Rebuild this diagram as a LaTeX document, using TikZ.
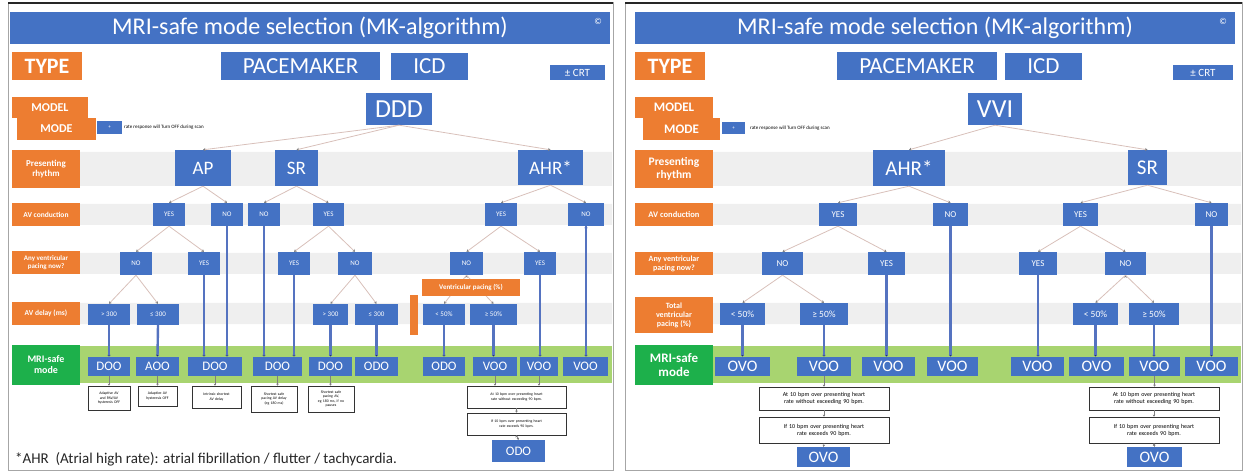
\documentclass[tikz,border=0pt]{standalone}
\usepackage{fontspec}
\setmainfont{Carlito}
\usepackage{tikz}
\usetikzlibrary{positioning}
\usetikzlibrary{arrows.meta}
\usepackage{color}
\definecolor{mriblue}{HTML}{4472C4}
\definecolor{mriorange}{HTML}{ED7D31}
\definecolor{mrigreen}{HTML}{1DB04B}
\definecolor{bandgreen}{HTML}{A8D470}
\definecolor{bandgrey}{HTML}{EFEFEF}
\definecolor{linkgrey}{HTML}{D8C0BA}
\definecolor{dropblue}{HTML}{5573C0}

\begin{document}
\begin{tikzpicture}[x=1pt, y=-1pt,
    blk/.style={fill=mriblue, text=white, inner sep=0pt},
    head/.style={blk, minimum width=#1, minimum height=28pt, font=\fontsize{23}{25}\selectfont},
    lbl/.style={fill=mriorange, text=white, inner sep=0pt, align=center, minimum width=68pt,
        minimum height=#1, font=\bfseries\fontsize{7.5}{8.5}\selectfont},
    rlbl/.style={lbl=#1, minimum width=78pt, font=\bfseries\fontsize{8.5}{9.5}\selectfont},
    rhy/.style={blk, minimum width=#1, minimum height=36pt, font=\fontsize{19}{21}\selectfont},
    ans/.style={blk, minimum width=#1, minimum height=23pt, font=\fontsize{7}{8}\selectfont},
    rans/.style={ans=#1, font=\fontsize{9}{10}\selectfont},
    cut/.style={blk, minimum width=#1, minimum height=21pt, font=\fontsize{7}{8}\selectfont},
    rcut/.style={cut=#1, minimum height=22pt, font=\fontsize{9.5}{10}\selectfont},
    res/.style={blk, minimum width=#1, minimum height=19pt, font=\fontsize{13}{14}\selectfont},
    rres/.style={res=#1, font=\fontsize{16}{17}\selectfont},
    note/.style={draw=black!80, line width=0.8pt, fill=white, inner sep=1pt, align=center,
        text width=#1, font=\fontsize{3.8}{4.4}\selectfont},
    rnote/.style={note=#1, font=\fontsize{6}{7}\selectfont},
    link/.style={draw=linkgrey, line width=0.8pt, -{Stealth[length=2.5pt, width=3pt, color=gray]}},
    drop/.style={draw=dropblue, line width=2.4pt, -{Latex[length=2pt, width=4pt]}},
    tick/.style={draw=gray, line width=0.7pt, -{Stealth[length=2pt, width=2.5pt]}}]
    \useasboundingbox (0,0) rectangle (1243,473);
    \draw[gray!70, line width=1pt] (8,3) rectangle (613,470);
    \draw[gray!70, line width=1pt] (625,3) rectangle (1242,470);
    \draw[black!85, line width=1.5pt] (8,3) -- (613,3) (625,3) -- (1242,3);
    % row bands
    \fill[bandgrey] (80,152) rectangle (612,186) (80,204) rectangle (612,225)
        (80,253) rectangle (612,274) (80,303) rectangle (612,324);
    \fill[bandgreen] (80,346) rectangle (612,383);
    \fill[bandgrey] (713,152) rectangle (1241,186) (713,204) rectangle (1241,225)
        (713,253) rectangle (1241,274) (713,303) rectangle (1241,324);
    \fill[bandgreen] (713,346) rectangle (1241,383);

    % left panel: DDD
    \path
        node (titleL) at (310,28) [blk, minimum width=600pt, minimum height=32pt, font=\fontsize{24}{26}\selectfont] {MRI-safe mode selection (MK-algorithm)}
        node (copyL) at (598,21) [text=white, inner sep=0pt, font=\fontsize{9}{9}\selectfont] {©}
        node (typeL) at (47,66) [lbl=28pt, minimum width=70pt, font=\bfseries\fontsize{22}{24}\selectfont] {TYPE}
        node (pmL) at (300.5,66) [head=159pt] {PACEMAKER}
        node (icdL) at (429.5,66.5) [head=77pt, minimum height=27pt] {ICD}
        node (crtL) at (577.5,72.5) [blk, minimum width=55pt, minimum height=15pt, font=\fontsize{11}{12}\selectfont] {± CRT}
        node (modelL) at (50,107.5) [lbl=21pt, minimum width=76pt, font=\bfseries\fontsize{12}{13}\selectfont] {MODEL}
        node (modeL) at (56.5,129) [lbl=22pt, minimum width=79pt, font=\bfseries\fontsize{12}{13}\selectfont] {MODE}
        node (plusL) at (109.5,127.5) [blk, minimum width=25pt, minimum height=13pt, font=\fontsize{5}{5}\selectfont] {+}
        node (rrL) at (124,127.5) [anchor=west, inner sep=0pt, font=\fontsize{5}{6}\selectfont] {rate response will Turn OFF during scan}
        node (ddd) at (399,109) [blk, minimum width=66pt, minimum height=32pt, font=\fontsize{26}{28}\selectfont] {DDD};
    \path
        node (rhyL) at (46,169) [lbl=38pt, font=\bfseries\fontsize{9}{10}\selectfont] {Presenting\\rhythm}
        node (avcL) at (46,214.5) [lbl=23pt] {AV conduction}
        node (vpL) at (46,262.5) [lbl=23pt, font=\bfseries\fontsize{7}{7.5}\selectfont] {Any ventricular\\pacing now?}
        node (avdL) at (46,313.5) [lbl=23pt] {AV delay (ms)}
        node (safeL) at (46,365) [lbl=40pt, fill=mrigreen, font=\bfseries\fontsize{10}{11}\selectfont] {MRI-safe\\mode};
    \path
        node (ap) at (203,168) [rhy=56pt] {AP}
        node (sr) at (296.5,168) [rhy=43pt] {SR}
        node (ahr) at (550.5,167.5) [rhy=65pt, minimum height=35pt] {AHR*}
        node (apY) at (169,214.5) [ans=32pt] {YES}
        node (apN) at (227,214.5) [ans=32pt] {NO}
        node (srN) at (264,214.5) [ans=32pt] {NO}
        node (srY) at (328.5,214.5) [ans=31pt] {YES}
        node (ahY) at (501,214.5) [ans=32pt] {YES}
        node (ahN) at (586,214.5) [ans=36pt] {NO}
        node (apYN) at (136,263.5) [ans=32pt] {NO}
        node (apYY) at (204,263.5) [ans=32pt] {YES}
        node (srYY) at (294,263.5) [ans=32pt] {YES}
        node (srYN) at (355,263.5) [ans=34pt] {NO}
        node (ahYN) at (466.5,263.5) [ans=33pt] {NO}
        node (ahYY) at (540,263.5) [ans=32pt] {YES}
        node (apD1) at (109,314.5) [cut=42pt] {> 300}
        node (apD2) at (158,314.5) [cut=42pt] {≤ 300}
        node (srD1) at (330.5,314.5) [cut=35pt] {> 300}
        node (srD2) at (376.5,314.5) [cut=43pt] {≤ 300}
        node (ahP1) at (444,314.5) [cut=42pt] {< 50\%}
        node (ahP2) at (493.5,314.5) [cut=47pt] {≥ 50\%};
    \path
        node (outA) at (109,366.5) [res=42pt] {DOO}
        node (outB) at (157.5,366.5) [res=43pt] {AOO}
        node (outC) at (215,366.5) [res=54pt] {DOO}
        node (outD) at (277.5,366.5) [res=49pt] {DOO}
        node (outE) at (330.5,366.5) [res=43pt] {DOO}
        node (outF) at (376.5,366.5) [res=43pt] {ODO}
        node (outG) at (444,366.5) [res=42pt] {ODO}
        node (outH) at (495,366.5) [res=44pt] {VOO}
        node (outI) at (539,366.5) [res=38pt] {VOO}
        node (outJ) at (585.5,366.5) [res=45pt] {VOO};
    \path
        node (noteA) at (109,398) [note=40pt, minimum height=24pt] {Adaptive AV\\and PAV/AV\\hysteresis OFF}
        node (noteB) at (157.5,396) [note=37pt, minimum height=20pt] {Adaptive AV\\hysteresis OFF}
        node (noteC) at (216.5,397) [note=47pt, minimum height=22pt] {Intrinsic shortest\\AV delay}
        node (noteD) at (274,399) [note=44pt, minimum height=26pt] {Shortest safe\\pacing AV delay\\(eg 180 ms)}
        node (noteE) at (331,399) [note=44pt, minimum height=26pt] {Shortest safe\\pacing AV,\\eg 180 ms, if no\\pauses}
        node (rateA) at (516.5,397) [note=97pt, minimum height=22pt] {At 10 bpm over presenting heart\\rate without exceeding 90 bpm.}
        node (rateB) at (516.5,424) [note=97pt, minimum height=22pt] {If 10 bpm over presenting heart\\rate exceeds 90 bpm.}
        node (lastL) at (518.5,451) [res=53pt, minimum height=22pt] {ODO};
    \path[link]
        (ddd.south) edge (ap.north) (ddd.south) edge (sr.north) (ddd.south) edge (ahr.north)
        (ap.south) edge (apY.north) (ap.south) edge (apN.north)
        (sr.south) edge (srN.north) (sr.south) edge (srY.north)
        (ahr.south) edge (ahY.north) (ahr.south) edge (ahN.north)
        (apY.south) edge (apYN.north) (apY.south) edge (apYY.north)
        (srY.south) edge (srYY.north) (srY.south) edge (srYN.north)
        (ahY.south) edge (ahYN.north) (ahY.south) edge (ahYY.north)
        (apYN.south) edge (apD1.north) (apYN.south) edge (apD2.north)
        (srYN.south) edge (srD1.north) (srYN.south) edge (srD2.north)
        (ahYN.south) edge (ahP1.north) (ahYN.south) edge (ahP2.north);
    \path[drop]
        (apD1.south) edge (outA.north) (apD2.south) edge (outB.north)
        (apYY.south) edge (apYY.south |- outC.north) (apN.south) edge (apN.south |- outC.north)
        (srN.south) edge (srN.south |- outD.north) (srYY.south) edge (srYY.south |- outD.north)
        (srD1.south) edge (outE.north) (srD2.south) edge (outF.north)
        (ahP1.south) edge (outG.north) (ahP2.south) edge (ahP2.south |- outH.north)
        (ahYY.south) edge (ahYY.south |- outI.north) (ahN.south) edge (ahN.south |- outJ.north);
    \path[tick]
        (outA.south) edge (noteA.north) (outB.south) edge (noteB.north)
        (outC.south) edge (outC.south |- noteC.north) (outD.south) edge (outD.south |- noteD.north)
        (outE.south) edge (outE.south |- noteE.north)
        (outH.south) edge (outH.south |- rateA.north) (outI.south) edge (outI.south |- rateA.north)
        (rateA.south) edge (rateB.north) (rateB.south) edge (lastL.north);
    \path
        node (vpct) at (471,287.5) [lbl=17pt, minimum width=98pt, font=\bfseries\fontsize{7}{8}\selectfont] {Ventricular pacing (\%)}
        node (vbar) at (414,315) [fill=mriorange, minimum width=8pt, minimum height=40pt, inner sep=0pt] {}
        node (foot) at (15,459) [anchor=west, inner sep=0pt, text=black!85, font=\fontsize{15}{16}\selectfont] {*AHR\ \ (Atrial high rate): atrial fibrillation / flutter / tachycardia.};

    % right panel: VVI
    \path
        node (titleR) at (935,28) [blk, minimum width=600pt, minimum height=32pt, font=\fontsize{24}{26}\selectfont] {MRI-safe mode selection (MK-algorithm)}
        node (copyR) at (1223,21) [text=white, inner sep=0pt, font=\fontsize{9}{9}\selectfont] {©}
        node (typeR) at (670,66) [lbl=28pt, minimum width=70pt, font=\bfseries\fontsize{22}{24}\selectfont] {TYPE}
        node (pmR) at (917,66) [head=160pt] {PACEMAKER}
        node (icdR) at (1043.5,66.5) [head=77pt, minimum height=27pt] {ICD}
        node (crtR) at (1203,72.5) [blk, minimum width=60pt, minimum height=15pt, font=\fontsize{11}{12}\selectfont] {± CRT}
        node (modelR) at (674,107.5) [lbl=21pt, minimum width=78pt, font=\bfseries\fontsize{13}{14}\selectfont] {MODEL}
        node (modeR) at (681.5,129) [lbl=22pt, minimum width=77pt, font=\bfseries\fontsize{13}{14}\selectfont] {MODE}
        node (plusR) at (733.5,128) [blk, minimum width=23pt, minimum height=12pt, font=\fontsize{5}{5}\selectfont] {+}
        node (rrR) at (750,128) [anchor=west, inner sep=0pt, font=\fontsize{5}{6}\selectfont] {rate response will Turn OFF during scan}
        node (vvi) at (995,109) [blk, minimum width=54pt, minimum height=32pt, font=\fontsize{26}{28}\selectfont] {VVI};
    \path
        node (rhyR) at (674,169) [rlbl=38pt, font=\bfseries\fontsize{11.5}{13}\selectfont] {Presenting\\rhythm}
        node (avcR) at (674,214.5) [rlbl=23pt] {AV conduction}
        node (vpR) at (674,263.5) [rlbl=23pt, font=\bfseries\fontsize{8}{9}\selectfont] {Any ventricular\\pacing now?}
        node (totR) at (674,315) [rlbl=36pt, font=\bfseries\fontsize{8}{9}\selectfont] {Total\\ventricular\\pacing (\%)}
        node (safeR) at (674,365) [rlbl=40pt, fill=mrigreen, font=\bfseries\fontsize{13}{14}\selectfont] {MRI-safe\\mode};
    \path
        node (ahrR) at (909,168) [rhy=72pt, font=\fontsize{21}{23}\selectfont] {AHR*}
        node (srR) at (1147.5,167.5) [rhy=39pt, minimum height=35pt, font=\fontsize{21}{23}\selectfont] {SR}
        node (ahY2) at (838,214.5) [rans=38pt] {YES}
        node (ahN2) at (950.5,214.5) [rans=35pt] {NO}
        node (srY2) at (1080.5,214.5) [rans=35pt] {YES}
        node (srN2) at (1211.5,214.5) [rans=33pt] {NO}
        node (ahYN2) at (782.5,263.5) [rans=41pt] {NO}
        node (ahYY2) at (886.5,263.5) [rans=37pt] {YES}
        node (srYY2) at (1038,263.5) [rans=38pt] {YES}
        node (srYN2) at (1125.5,263.5) [rans=41pt] {NO}
        node (ahP3) at (742.5,314) [rcut=45pt] {< 50\%}
        node (ahP4) at (824,314) [rcut=48pt] {≥ 50\%}
        node (srP3) at (1095.5,314) [rcut=45pt] {< 50\%}
        node (srP4) at (1154,314) [rcut=50pt] {≥ 50\%};
    \path
        node (outK) at (742.5,366.5) [rres=55pt] {OVO}
        node (outL) at (824,366.5) [rres=54pt] {VOO}
        node (outM) at (888.5,366.5) [rres=53pt] {VOO}
        node (outN) at (952.5,366.5) [rres=51pt] {VOO}
        node (outO) at (1037.5,366.5) [rres=53pt] {VOO}
        node (outP) at (1096.5,366.5) [rres=55pt] {OVO}
        node (outQ) at (1154.5,366.5) [rres=51pt] {VOO}
        node (outR) at (1211.5,366.5) [rres=53pt] {VOO};
    \path
        node (rateC) at (824,398.5) [rnote=128pt, minimum height=23pt] {At 10 bpm over presenting heart\\rate without exceeding 90 bpm.}
        node (rateD) at (824,430) [rnote=128pt, minimum height=26pt] {If 10 bpm over presenting heart\\rate exceeds 90 bpm.}
        node (lastR1) at (823.5,457) [rres=53pt, minimum height=20pt] {OVO}
        node (rateE) at (1154,398.5) [rnote=128pt, minimum height=23pt] {At 10 bpm over presenting heart\\rate without exceeding 90 bpm.}
        node (rateF) at (1154,430) [rnote=128pt, minimum height=26pt] {If 10 bpm over presenting heart\\rate exceeds 90 bpm.}
        node (lastR2) at (1154.5,457) [rres=55pt, minimum height=20pt] {OVO};
    \path[link]
        (vvi.south) edge (ahrR.north) (vvi.south) edge (srR.north)
        (ahrR.south) edge (ahY2.north) (ahrR.south) edge (ahN2.north)
        (srR.south) edge (srY2.north) (srR.south) edge (srN2.north)
        (ahY2.south) edge (ahYN2.north) (ahY2.south) edge (ahYY2.north)
        (srY2.south) edge (srYY2.north) (srY2.south) edge (srYN2.north)
        (ahYN2.south) edge (ahP3.north) (ahYN2.south) edge (ahP4.north)
        (srYN2.south) edge (srP3.north) (srYN2.south) edge (srP4.north);
    \path[drop]
        (ahP3.south) edge (outK.north) (ahP4.south) edge (outL.north)
        (ahYY2.south) edge (ahYY2.south |- outM.north) (ahN2.south) edge (ahN2.south |- outN.north)
        (srYY2.south) edge (srYY2.south |- outO.north) (srP3.south) edge (srP3.south |- outP.north)
        (srP4.south) edge (srP4.south |- outQ.north) (srN2.south) edge (outR.north);
    \path[tick]
        (outL.south) edge (rateC.north) (rateC.south) edge (rateD.north) (rateD.south) edge (lastR1.north)
        (outQ.south) edge (outQ.south |- rateE.north) (rateE.south) edge (rateF.north) (rateF.south) edge (lastR2.north);
\end{tikzpicture}
\end{document}
